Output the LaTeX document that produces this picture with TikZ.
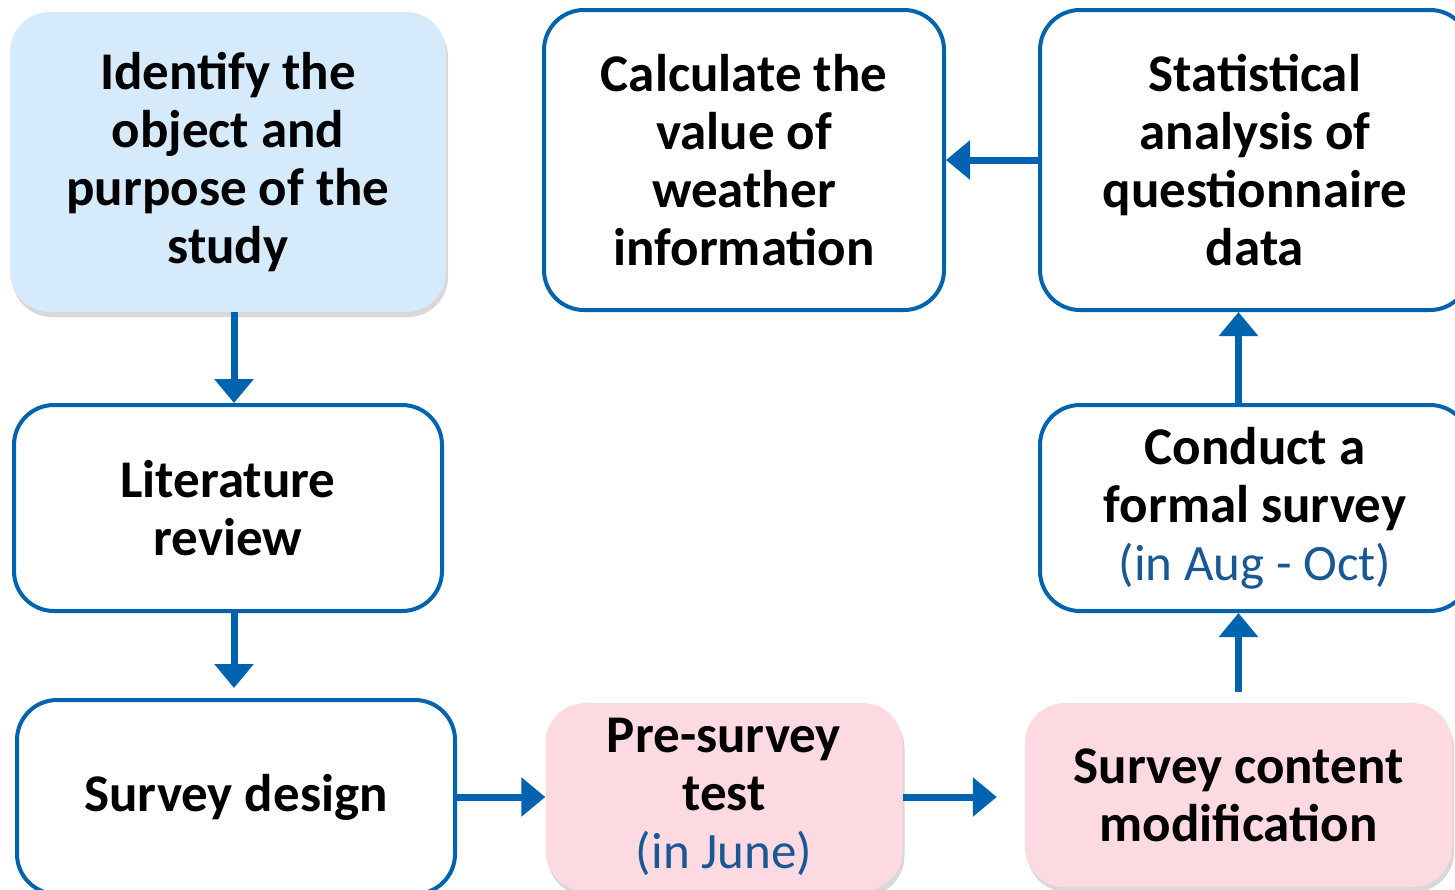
\documentclass[tikz,border=0pt]{standalone}
\usepackage{fontspec}
\setmainfont{Carlito}
\usetikzlibrary{arrows.meta,shadows}
\definecolor{bdr}{RGB}{0,99,175}
\definecolor{subtxt}{RGB}{24,88,150}
\definecolor{lblue}{RGB}{213,234,251}
\definecolor{lpink}{RGB}{253,217,225}
\begin{document}
\begin{tikzpicture}[x=1pt,y=-1pt,
  box/.style={rounded corners=40pt, align=center, inner sep=0pt,
    font=\fontsize{53}{58}\selectfont\bfseries},
  wbox/.style={box, draw=bdr, line width=4pt, fill=white},
  shbox/.style={box, drop shadow={shadow xshift=2pt, shadow yshift=-5pt, opacity=0.25, fill=black!60}},
  bbox/.style={shbox, fill=lblue},
  pbox/.style={shbox, fill=lpink},
  arr/.style={draw=bdr, line width=7pt, -{Triangle[width=38pt,length=24pt]}}
]
\useasboundingbox (0,0) rectangle (1455,889);
\fill[white] (0,0) rectangle (1455,889);

\node[bbox, minimum width=436pt, minimum height=300pt] (ident) at (228,162)
  {Identify the\\object and\\purpose of the\\study};
\node[wbox, minimum width=428pt, minimum height=206pt] (lit) at (228,508)
  {Literature\\review};
\node[wbox, minimum width=438pt, minimum height=194pt] (sd) at (236,797)
  {Survey design};
\node[pbox, minimum width=357pt, minimum height=188pt] (pre) at (724,797)
  {Pre-survey\\test\\{\fontsize{51}{58}\selectfont\mdseries\color{subtxt}(in June)}};
\node[pbox, minimum width=427pt, minimum height=184pt] (mod) at (1238.5,795)
  {Survey content\\modification};
\node[wbox, minimum width=430pt, minimum height=206pt] (cond) at (1255,508)
  {Conduct a\\formal survey\\{\fontsize{51}{58}\selectfont\mdseries\color{subtxt}(in Aug - Oct)}};
\node[wbox, minimum width=430pt, minimum height=300pt] (stat) at (1255,160)
  {Statistical\\analysis of\\questionnaire\\data};
\node[wbox, minimum width=400pt, minimum height=300pt] (calc) at (744,160)
  {Calculate the\\value of\\weather\\information};

\draw[arr] ([xshift=6pt]ident.south) -- ([xshift=6pt]lit.north);
\draw[arr] ([xshift=6pt]lit.south) -- ([xshift=6pt,yshift=10pt]lit.south |- sd.north);
\draw[arr] (sd.east) -- (pre.west |- sd.east);
\draw[arr] (pre.east |- sd.east) -- ([xshift=-28pt]mod.west |- sd.east);
\draw[arr] ([yshift=11pt]mod.north) -- (mod.north |- cond.south);
\draw[arr] (mod.north |- cond.north) -- (mod.north |- stat.south);
\draw[arr] (stat.west) -- (calc.east);
\end{tikzpicture}
\end{document}
